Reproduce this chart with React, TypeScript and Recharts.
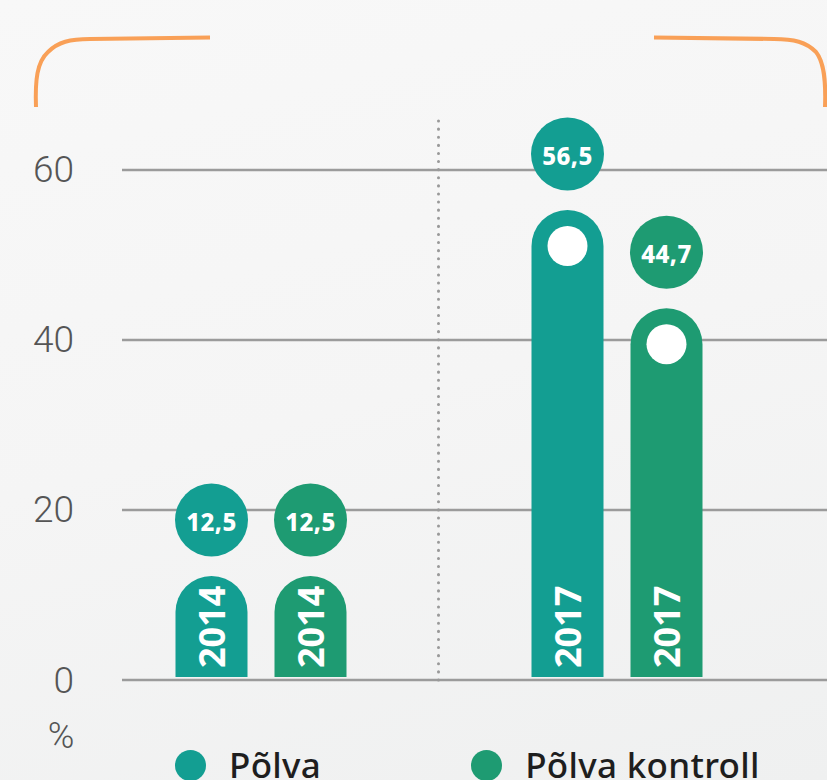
import { Bar, BarChart, CartesianGrid, LabelList, Legend, ReferenceLine, XAxis, YAxis } from "recharts";

const years = ["2014", "2017"];
const polvaValues = [12.5, 56.5];
const kontrollValues = [12.5, 44.7];
const yTicks = [0, 20, 40, 60];
const seriesNames = ["Põlva", "Põlva kontroll"];

const POLVA = "#139e92";
const KONTROLL = "#1e9b72";
const GRID = "#9b9b9b";

const data = years.map((year, i) => ({ year, polva: polvaValues[i], kontroll: kontrollValues[i] }));

const fmt = (v: number) => String(v).replace(".", ",");

function PillBar(props: any) {
  const { x, y, width, height, fill, payload } = props;
  if (!height || height <= 0) return null;
  const r = width / 2;
  const bottom = y + height - 3;
  const cx = x + r;
  const d = `M${x},${bottom} L${x},${y + r} A${r},${r} 0 0 1 ${x + width},${y + r} L${x + width},${bottom} Z`;
  return (
    <g>
      <path d={d} fill={fill} />
      {height > 200 && <circle cx={cx} cy={y + r} r={20} fill="#fff" />}
      <text
        x={cx}
        y={bottom - 9}
        transform={`rotate(-90 ${cx} ${bottom - 9})`}
        fill="#fff"
        fontSize={36}
        fontWeight={700}
        fontFamily="'Noto Sans', sans-serif"
        dominantBaseline="central"
      >
        {payload.year}
      </text>
    </g>
  );
}

function ValueBubble(props: any) {
  const { x, y, width, value, color } = props;
  const cx = x + width / 2;
  const cy = y - 56;
  return (
    <g>
      <circle cx={cx} cy={cy} r={36.5} fill={color} />
      <text
        x={cx}
        y={cy + 1}
        textAnchor="middle"
        dominantBaseline="central"
        fill="#fff"
        fontSize={24}
        fontWeight={800}
        letterSpacing={0.5}
        fontFamily="'Noto Sans', sans-serif"
      >
        {fmt(value)}
      </text>
    </g>
  );
}

function YTick(props: any) {
  const { x, y, payload } = props;
  return (
    <text x={x} y={y} textAnchor="end" dominantBaseline="central" fontFamily="Roboto, sans-serif" fontWeight={300} fontSize={37} fill="#555">
      {payload.value}
    </text>
  );
}

function LegendRow() {
  const colors = [POLVA, KONTROLL];
  return (
    <div style={{ display: "flex", alignItems: "center", paddingLeft: 175, whiteSpace: "nowrap", width: 827, boxSizing: "border-box" }}>
      {seriesNames.map((name, i) => (
        <div key={name} style={{ display: "flex", alignItems: "center", marginRight: 150, flexShrink: 0 }}>
          <span style={{ width: 31, height: 31, borderRadius: "50%", background: colors[i], display: "inline-block", flexShrink: 0 }} />
          <span
            style={{
              marginLeft: 23,
              fontFamily: "'Noto Sans', sans-serif",
              fontWeight: 500,
              fontSize: 35,
              letterSpacing: 0.3,
              color: "#1e1e1e",
              lineHeight: "40px",
            }}
          >
            {name}
          </span>
        </div>
      ))}
    </div>
  );
}

export default function App() {
  return (
    <div
      style={{
        position: "absolute",
        left: 0,
        top: 0,
        width: 827,
        height: 780,
        overflow: "hidden",
        background: "linear-gradient(165deg, #f8f8f8 0%, #f5f5f5 50%, #eff0f0 100%)",
      }}
    >
      <svg width={827} height={780} style={{ position: "absolute", left: 0, top: 0 }}>
        <path d="M36,107 C35,80 37,62 48,52 C58,42 70,39 90,39 L210,37.5" fill="none" stroke="#f9a057" strokeWidth={4} />
        <path d="M654,37.5 L774,39 C794,39 806,42 816,52 C824,62 826,80 825,107" fill="none" stroke="#f9a057" strokeWidth={4} />
        <text x={61} y={748} textAnchor="middle" fontFamily="Roboto, sans-serif" fontWeight={300} fontSize={36} fill="#555">
          %
        </text>
      </svg>
      <div style={{ position: "absolute", left: 0, top: 0 }}>
        <BarChart
          width={827}
          height={780}
          data={data}
          margin={{ top: 121, right: 0, bottom: 100, left: 0 }}
          barSize={72}
          barGap={27}
        >
          <CartesianGrid yAxisId="grid" vertical={false} horizontalValues={yTicks} stroke={GRID} strokeWidth={2.5} />
          <XAxis dataKey="year" hide padding={{ left: -39.5, right: 32.5 }} />
          <YAxis
            yAxisId="grid"
            type="number"
            width={122}
            domain={[0, 65.76]}
            allowDataOverflow
            ticks={yTicks}
            axisLine={false}
            tickLine={false}
            tickSize={0}
            tickMargin={-12}
            tick={YTick}
          />
          <YAxis yAxisId="bars" hide domain={[0, 67.2]} allowDataOverflow />
          <ReferenceLine
            yAxisId="bars"
            x="2017"
            position="start"
            stroke="#999"
            strokeWidth={3}
            strokeDasharray="0.1 8"
            strokeLinecap="round"
          />
          <Bar yAxisId="bars" dataKey="polva" name={seriesNames[0]} fill={POLVA} shape={PillBar} isAnimationActive={false}>
            <LabelList dataKey="polva" content={(p: any) => <ValueBubble {...p} color={POLVA} />} />
          </Bar>
          <Bar yAxisId="bars" dataKey="kontroll" name={seriesNames[1]} fill={KONTROLL} shape={PillBar} isAnimationActive={false}>
            <LabelList dataKey="kontroll" content={(p: any) => <ValueBubble {...p} color={KONTROLL} />} />
          </Bar>
          <Legend
            layout="horizontal"
            verticalAlign="middle"
            align="center"
            wrapperStyle={{ top: 745, left: 0, width: 827 }}
            content={() => <LegendRow />}
          />
        </BarChart>
      </div>
    </div>
  );
}
